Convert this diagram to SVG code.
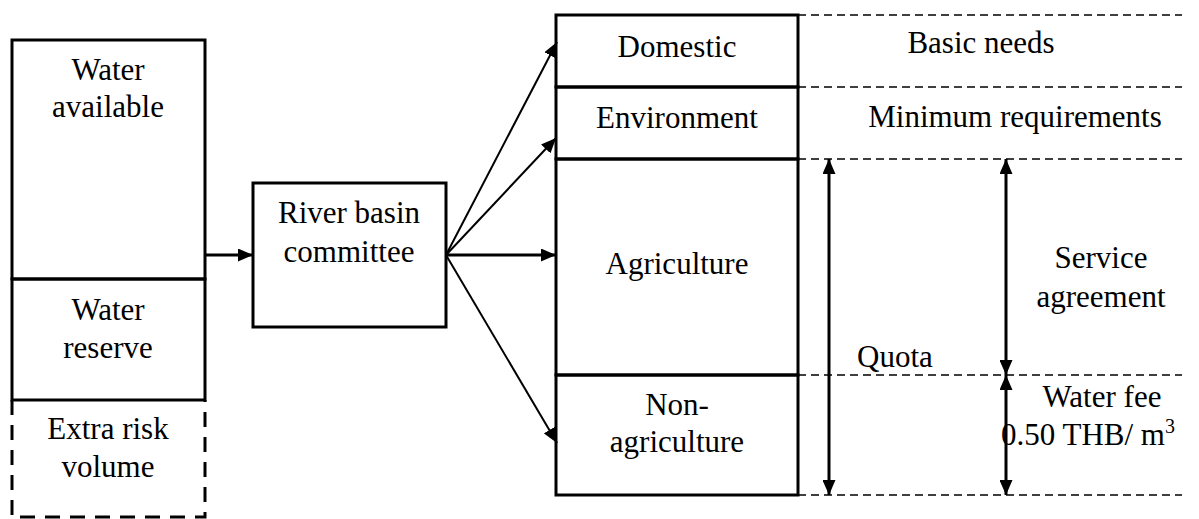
<svg xmlns="http://www.w3.org/2000/svg" width="1199" height="519" viewBox="0 0 1199 519">
  <style>
    text { font-family: "Liberation Serif", "Times New Roman", serif; font-size: 31px; fill: #000; text-anchor: middle; }
    .box { fill: none; stroke: #000; stroke-width: 3; }
    .dashbox { fill: none; stroke: #000; stroke-width: 3; stroke-dasharray: 15 10; }
    .guide { fill: none; stroke: #000; stroke-width: 1.4; stroke-dasharray: 8 5; }
    .thin { fill: none; stroke: #000; stroke-width: 2; }
    .thick { fill: none; stroke: #000; stroke-width: 3; }
  </style>
  <defs>
    <marker id="head" viewBox="0 0 15 13" refX="15" refY="6.5" markerWidth="15" markerHeight="13" markerUnits="userSpaceOnUse" orient="auto-start-reverse">
      <path d="M0,0 L15,6.5 L0,13 z" fill="#000"/>
    </marker>
  </defs>
  <rect width="1199" height="519" fill="#fff"/>

  <!-- Water stock column -->
  <g id="water-available">
    <rect class="box" x="12" y="40" width="193" height="239"/>
    <text x="108" y="80">Water</text>
    <text x="108" y="117">available</text>
  </g>
  <g id="water-reserve">
    <rect class="box" x="12" y="279" width="193" height="121"/>
    <text x="108" y="320">Water</text>
    <text x="108" y="358">reserve</text>
  </g>
  <g id="extra-risk">
    <path class="dashbox" d="M12,400 V517 H205 V400"/>
    <text x="108" y="439">Extra risk</text>
    <text x="108" y="477">volume</text>
  </g>

  <!-- Committee -->
  <g id="committee">
    <rect class="box" x="253" y="183" width="193" height="144"/>
    <text x="349" y="223">River basin</text>
    <text x="349" y="262">committee</text>
  </g>

  <!-- Allocation column -->
  <g id="domestic">
    <rect class="box" x="556" y="15" width="242" height="72"/>
    <text x="677" y="57">Domestic</text>
  </g>
  <g id="environment">
    <rect class="box" x="556" y="87" width="242" height="72"/>
    <text x="677" y="128">Environment</text>
  </g>
  <g id="agriculture">
    <rect class="box" x="556" y="159" width="242" height="216"/>
    <text x="677" y="274">Agriculture</text>
  </g>
  <g id="non-agriculture">
    <rect class="box" x="556" y="375" width="242" height="120"/>
    <text x="677" y="415">Non-</text>
    <text x="677" y="452">agriculture</text>
  </g>

  <!-- Connectors -->
  <g id="connectors">
    <line class="thick" x1="205" y1="255" x2="253" y2="255" marker-end="url(#head)"/>
    <line class="thin" x1="446" y1="255" x2="557" y2="42" marker-end="url(#head)"/>
    <line class="thin" x1="446" y1="255" x2="556" y2="138" marker-end="url(#head)"/>
    <line class="thick" x1="446" y1="255" x2="556" y2="255" marker-end="url(#head)"/>
    <line class="thin" x1="446" y1="255" x2="557" y2="443" marker-end="url(#head)"/>
  </g>

  <!-- Level guides -->
  <g id="guides">
    <line class="guide" x1="798" y1="15" x2="1182" y2="15"/>
    <line class="guide" x1="798" y1="87" x2="1182" y2="87"/>
    <line class="guide" x1="798" y1="159" x2="1182" y2="159"/>
    <line class="guide" x1="798" y1="375" x2="1182" y2="375"/>
    <line class="guide" x1="798" y1="495" x2="1182" y2="495"/>
  </g>

  <!-- Range arrows -->
  <g id="ranges">
    <line class="thick" x1="829" y1="159" x2="829" y2="495" marker-start="url(#head)" marker-end="url(#head)"/>
    <line class="thick" x1="1006" y1="159" x2="1006" y2="375" marker-start="url(#head)" marker-end="url(#head)"/>
    <line class="thick" x1="1006" y1="375" x2="1006" y2="495" marker-start="url(#head)" marker-end="url(#head)"/>
  </g>

  <!-- Right-hand labels -->
  <g id="labels">
    <text x="981" y="53">Basic needs</text>
    <text x="1015" y="127">Minimum requirements</text>
    <text x="1101" y="268">Service</text>
    <text x="1101" y="307">agreement</text>
    <text x="895" y="367">Quota</text>
    <text x="1102" y="407">Water fee</text>
    <text x="1088" y="445">0.50 THB/ m<tspan font-size="20" dy="-12">3</tspan></text>
  </g>
</svg>
